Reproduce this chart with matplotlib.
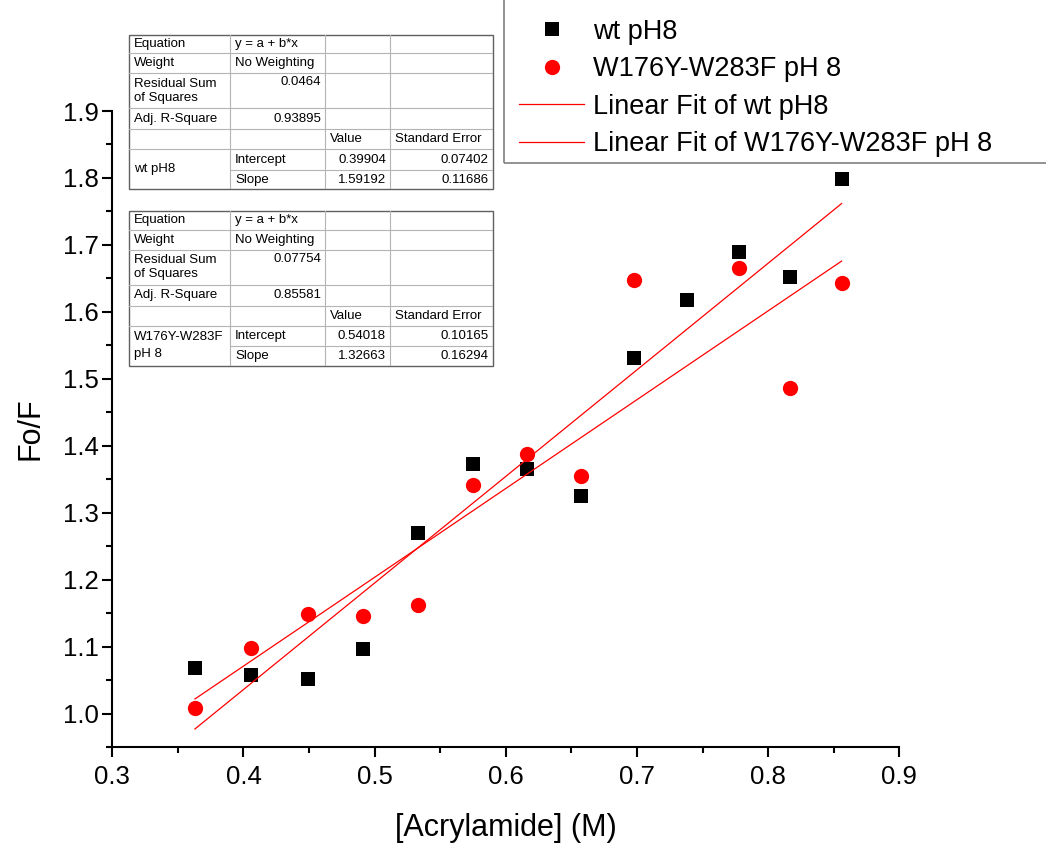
import numpy as np
import matplotlib
matplotlib.use('Agg')
import matplotlib.pyplot as plt
from matplotlib.ticker import MultipleLocator, FormatStrFormatter
from matplotlib.patches import Rectangle

plt.rcParams['font.family'] = ['Liberation Sans', 'DejaVu Sans']

#data
wt_x = [0.363, 0.406, 0.449, 0.491, 0.533, 0.575, 0.616, 0.657, 0.698, 0.738, 0.778, 0.817, 0.856]
wt_y = [1.068, 1.058, 1.051, 1.097, 1.270, 1.372, 1.365, 1.325, 1.531, 1.618, 1.689, 1.652, 1.798]
mut_x = [0.363, 0.406, 0.449, 0.491, 0.533, 0.575, 0.616, 0.657, 0.698, 0.778, 0.817, 0.856]
mut_y = [1.008, 1.098, 1.148, 1.146, 1.162, 1.342, 1.387, 1.355, 1.648, 1.666, 1.486, 1.643]

#fit results (from the tables)
wt_fit = {'a': 0.39904, 'b': 1.59192, 'a_err': 0.07402, 'b_err': 0.11686, 'rss': '0.0464', 'r2': '0.93895'}
mut_fit = {'a': 0.54018, 'b': 1.32663, 'a_err': 0.10165, 'b_err': 0.16294, 'rss': '0.07754', 'r2': '0.85581'}

labels = ['wt pH8', 'W176Y-W283F pH 8', 'Linear Fit of wt pH8', 'Linear Fit of W176Y-W283F pH 8']
table_names = ['wt pH8', 'W176Y-W283F\npH 8']

W, H = 1046, 843
fig = plt.figure(figsize=[W/100, H/100], dpi=100)
ax = fig.add_axes([112.3/W, 1-747/H, (899.3-112.3)/W, (747-111)/H])

#scatter + fits
h1, = ax.plot(wt_x, wt_y, 's', color='black', ms=10, mew=0, label=labels[0])
h2, = ax.plot(mut_x, mut_y, 'o', color='red', ms=11, mew=0, label=labels[1])
xf = np.array([min(wt_x), max(wt_x)])
h3, = ax.plot(xf, wt_fit['a']+wt_fit['b']*xf, color='red', lw=0.9, label=labels[2])
xf = np.array([min(mut_x), max(mut_x)])
h4, = ax.plot(xf, mut_fit['a']+mut_fit['b']*xf, color='red', lw=0.9, label=labels[3])

ax.set_xlim(0.3, 0.9)
ax.set_ylim(0.95, 1.9)
ax.spines['top'].set_visible(False)
ax.spines['right'].set_visible(False)
ax.spines['left'].set_linewidth(1.5)
ax.spines['bottom'].set_linewidth(1.5)
ax.xaxis.set_major_locator(MultipleLocator(0.1))
ax.xaxis.set_minor_locator(MultipleLocator(0.05))
ax.yaxis.set_major_locator(MultipleLocator(0.1))
ax.yaxis.set_minor_locator(MultipleLocator(0.05))
ax.xaxis.set_major_formatter(FormatStrFormatter('%.1f'))
ax.yaxis.set_major_formatter(FormatStrFormatter('%.1f'))
ax.tick_params(which='major', direction='out', length=7, width=1.5, labelsize=18.5, pad=3)
ax.tick_params(axis='x', which='major', pad=6)
ax.tick_params(which='minor', direction='out', length=4, width=1.5)
ax.set_xlabel('[Acrylamide] (M)', fontsize=22, labelpad=17)
ax.set_ylabel('Fo/F', fontsize=22, labelpad=12)

#legend, box runs off the top/right of the figure
fig.patches.append(Rectangle((504/W, 1-163/H), 0.6, 0.3, transform=fig.transFigure,
                             fill=False, edgecolor='#808080', lw=1.2))
fig.legend(handles=[h1, h2, h3, h4], loc='lower left', bbox_to_anchor=(519/W, 1-157/H),
           frameon=False, fontsize=19.5, borderpad=0, borderaxespad=0, labelspacing=0.42,
           handlelength=2.4, handletextpad=0.33)


def draw_table(top, fit, name):
    x0, x1 = 129.3, 492.7
    tw, th = x1-x0, 154.6
    tax = fig.add_axes([x0/W, 1-(top+th)/H, tw/W, th/H])
    tax.set_xlim(0, tw)
    tax.set_ylim(th, 0)
    tax.axis('off')
    rows = [0, 18.6, 38.6, 73.6, 94.6, 114.6, 135.3, 154.6]
    cols = [0, 100.7, 195.7, 260.7, tw]
    inner = '#b4b4b4'
    for r in rows[1:-1]:
        xs = cols[1] if r == rows[6] else 0
        tax.plot([xs, tw], [r, r], color=inner, lw=0.8)
    for c in cols[1:-1]:
        tax.plot([c, c], [0, th], color=inner, lw=0.8)
    tax.add_patch(Rectangle((0, 0), tw, th, fill=False, edgecolor='#606060', lw=1.0, clip_on=False))
    fs = 9.5
    def txt(col, row, s, ha='left', va='center', yoff=0):
        if ha == 'left':
            x = cols[col]+5
        else:
            x = cols[col+1]-4
        y = (rows[row]+rows[row+1])/2 + yoff
        tax.text(x, y, s, ha=ha, va=va, fontsize=fs)
    txt(0, 0, 'Equation')
    txt(1, 0, 'y = a + b*x')
    txt(0, 1, 'Weight')
    txt(1, 1, 'No Weighting')
    tax.text(cols[0]+5, (rows[2]+rows[3])/2, 'Residual Sum\nof Squares', ha='left', va='center',
             fontsize=fs, linespacing=1.2)
    tax.text(cols[2]-4, rows[2]+9, fit['rss'], ha='right', va='center', fontsize=fs)
    txt(0, 3, 'Adj. R-Square')
    txt(1, 3, fit['r2'], ha='right')
    txt(2, 4, 'Value')
    txt(3, 4, 'Standard Error')
    tax.text(cols[0]+5, (rows[5]+rows[7])/2, name, ha='left', va='center', fontsize=fs, linespacing=1.5)
    txt(1, 5, 'Intercept')
    txt(1, 6, 'Slope')
    txt(2, 5, '{0:.5f}'.format(fit['a']), ha='right')
    txt(2, 6, '{0:.5f}'.format(fit['b']), ha='right')
    txt(3, 5, '{0:.5f}'.format(fit['a_err']), ha='right')
    txt(3, 6, '{0:.5f}'.format(fit['b_err']), ha='right')


draw_table(34.7, wt_fit, table_names[0])
draw_table(211.0, mut_fit, table_names[1])

fig.savefig('out.png', dpi=100)
